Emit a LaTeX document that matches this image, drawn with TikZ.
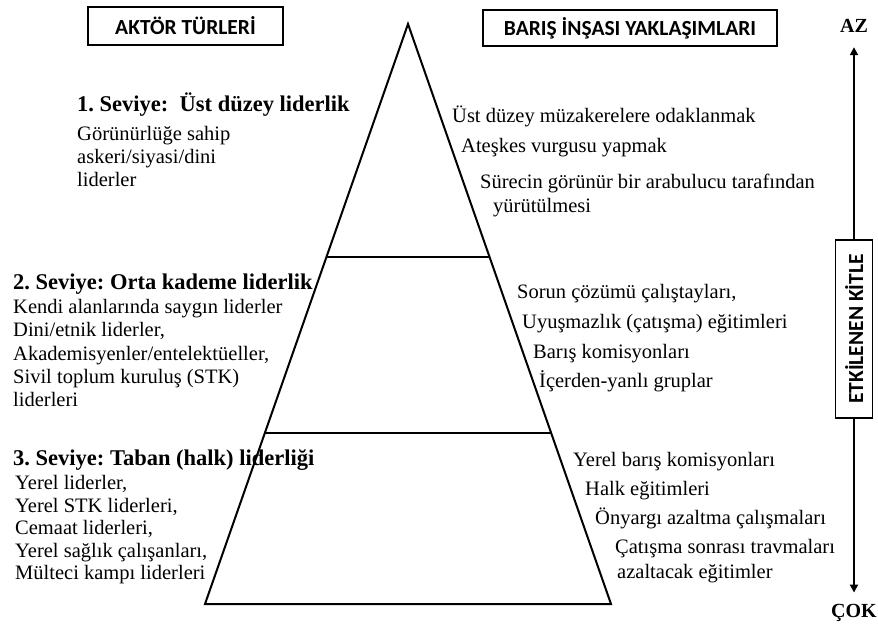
\documentclass[tikz,border=0pt]{standalone}
\usepackage{fontspec}
\setmainfont{Liberation Serif}
\newfontfamily\boxfont{Carlito}
\usetikzlibrary{arrows.meta}
\frenchspacing
\tikzset{
  body/.style={anchor=base west, inner sep=0pt, font=\frenchspacing\fontsize{20.5}{23}\selectfont},
  head/.style={anchor=base west, inner sep=0pt, font=\frenchspacing\fontsize{22.5}{26}\selectfont\bfseries},
  titlebox/.style={draw, line width=1.3pt, inner sep=0pt, font=\boxfont\bfseries\fontsize{21.5}{24}\selectfont},
  endlabel/.style={anchor=base, inner sep=0pt, font=\fontsize{20}{22}\selectfont\bfseries},
  pyr/.style={line width=2pt, line join=miter},
  arr/.style={line width=1.8pt, -{Triangle[length=8pt,width=8pt]}},
}
\begin{document}
\begin{tikzpicture}[x=1pt,y=-1pt]
\useasboundingbox (0,0) rectangle (878,624);
% pyramid
\coordinate (apex) at (408,24);
\coordinate (bl) at (205,604);
\coordinate (br) at (611,604);
\draw[pyr] (bl) -- (apex) -- (br) -- cycle;
\draw[pyr] (326.4,257) -- (489.6,257);
\draw[pyr] (264.9,433) -- (551.1,433);
% title boxes
\node[titlebox, minimum width=195pt, minimum height=38pt] (actors) at (185.5,26) {AKTÖR TÜRLERİ};
\node[titlebox, minimum width=294pt, minimum height=36pt] (approaches) at (630,28) {BARIŞ İNŞASI YAKLAŞIMLARI};
% audience axis
\node[titlebox, line width=1.2pt, rotate=90, minimum width=178pt, minimum height=37pt] (aud) at (854,329) {ETKİLENEN KİTLE};
\node[endlabel] (az) at (854,32) {AZ};
\node[endlabel] (cok) at (854,617) {ÇOK};
\draw[arr, shorten >=15pt] (aud) -- (az);
\draw[arr, shorten >=11pt] (aud) -- (cok);
% left: actors
\node[head] (l1h) at (77,111) {1. Seviye:\ \ Üst düzey liderlik};
\node[body] (l11) at (77,140) {Görünürlüğe sahip};
\node[body] (l12) at (77,163) {askeri/siyasi/dini};
\node[body] (l13) at (77,186) {liderler};
\node[head] (l2h) at (13,289) {2. Seviye: Orta kademe liderlik};
\node[body] (l21) at (13,313) {Kendi alanlarında saygın liderler};
\node[body] (l22) at (13,336) {Dini/etnik liderler,};
\node[body] (l23) at (13,360) {Akademisyenler/entelektüeller,};
\node[body] (l24) at (13,383) {Sivil toplum kuruluş (STK)};
\node[body] (l25) at (13,406) {liderleri};
\node[head] (l3h) at (13,465) {3. Seviye: Taban (halk) liderliği};
\node[body] (l31) at (15,489) {Yerel liderler,};
\node[body] (l32) at (15,512) {Yerel STK liderleri,};
\node[body] (l33) at (15,534) {Cemaat liderleri,};
\node[body] (l34) at (15,557) {Yerel sağlık çalışanları,};
\node[body] (l35) at (15,579) {Mülteci kampı liderleri};
% right: approaches
\node[body] (r11) at (452,122) {Üst düzey müzakerelere odaklanmak};
\node[body] (r12) at (461,152) {Ateşkes vurgusu yapmak};
\node[body] (r13) at (480,188) {Sürecin görünür bir arabulucu tarafından};
\node[body] (r14) at (493,212) {yürütülmesi};
\node[body] (r21) at (517,298) {Sorun çözümü çalıştayları,};
\node[body] (r22) at (522,328) {Uyuşmazlık (çatışma) eğitimleri};
\node[body] (r23) at (533,358) {Barış komisyonları};
\node[body] (r24) at (539,387) {İçerden-yanlı gruplar};
\node[body] (r31) at (573,466) {Yerel barış komisyonları};
\node[body] (r32) at (585,495) {Halk eğitimleri};
\node[body] (r33) at (595,524) {Önyargı azaltma çalışmaları};
\node[body] (r34) at (615,553) {Çatışma sonrası travmaları};
\node[body] (r35) at (617,578) {azaltacak eğitimler};
\end{tikzpicture}
\end{document}
